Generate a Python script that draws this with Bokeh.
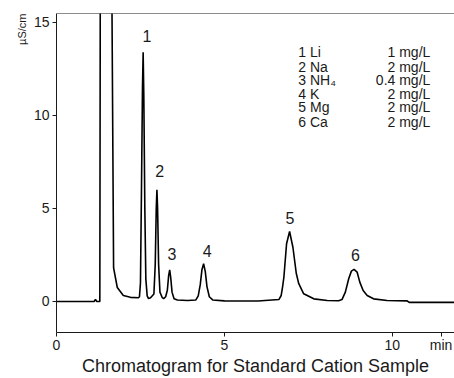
from bokeh.plotting import figure
from bokeh.models import Span, FixedTicker, ColumnDataSource, Title
from bokeh.core.properties import value
from bokeh.embed import file_html
from bokeh.resources import INLINE

time_min = [0.0, 1.00, 1.12, 1.16, 1.20, 1.29, 1.31, 1.62, 1.70, 1.81, 1.99, 2.20, 2.44,
            2.47, 2.50, 2.53, 2.56, 2.58, 2.60, 2.63, 2.66, 2.70, 2.74,
            2.80, 2.90, 2.94, 2.97, 2.99, 3.01, 3.04, 3.08, 3.15, 3.19,
            3.25, 3.30, 3.34, 3.37, 3.40, 3.44, 3.50, 3.60,
            3.90, 4.15, 4.22, 4.28, 4.33, 4.38, 4.43, 4.48, 4.55, 4.65, 5.00,
            6.00, 6.62, 6.69, 6.73, 6.77, 6.85, 6.94, 7.04, 7.14, 7.21, 7.36, 7.66, 8.06,
            8.40, 8.50, 8.60, 8.70, 8.78, 8.86, 8.95, 9.03, 9.13, 9.25, 9.44, 9.84,
            10.44, 10.50, 11.90]
signal = [0.0, 0.0, 0.0, 0.1, 0.0, 0.0, 25.0, 25.0, 1.8, 0.75, 0.32, 0.22, 0.2,
          0.25, 1.0, 6.0, 11.5, 13.4, 11.0, 5.0, 1.2, 0.3, 0.15,
          0.2, 0.4, 2.0, 5.0, 6.0, 5.0, 2.0, 0.5, 0.2, 0.15,
          0.25, 0.6, 1.4, 1.7, 1.3, 0.5, 0.15, 0.08,
          0.05, 0.08, 0.3, 0.9, 1.7, 2.03, 1.6, 0.8, 0.25, 0.08, 0.03,
          0.02, 0.1, 0.32, 0.77, 1.3, 3.1, 3.76, 2.9, 1.5, 0.97, 0.41, 0.14, 0.05,
          0.04, 0.1, 0.5, 1.22, 1.63, 1.72, 1.58, 1.04, 0.59, 0.32, 0.14, 0.05,
          0.03, -0.05, -0.05]

peak_labels = ["1", "2", "3", "4", "5", "6"]
peak_label_x = [2.69, 3.07, 3.44, 4.49, 6.95, 8.90]
peak_label_y = [14.25, 6.99, 2.53, 2.69, 4.46, 2.47]

ions = ["1 Li", "2 Na", "3 NH\u2084", "4 K", "5 Mg", "6 Ca"]
concentrations = ["1 mg/L", "2 mg/L", "0.4 mg/L", "2 mg/L", "2 mg/L", "2 mg/L"]
legend_y = [13.40, 12.63, 11.88, 11.17, 10.43, 9.64]

x_ticks = [0, 5, 10, 11.45]
x_tick_labels = {0: "0", 5: "5", 10: "10", 11.45: "min"}
y_ticks = [0, 5, 10, 15]

FONT = "Liberation Sans"
INK = "#1a1a1a"

p = figure(width=454, height=378, x_range=(0, 11.85), y_range=(-1.67, 15.48),
           output_backend="svg", toolbar_location=None,
           min_border_left=56, min_border_right=0, min_border_top=13, min_border_bottom=44)
p.outline_line_color = None
p.grid.visible = False
p.background_fill_color = "white"
p.border_fill_color = "white"

p.line(time_min, signal, line_color="black", line_width=1.6)

for ax in (p.xaxis[0], p.yaxis[0]):
    ax.axis_line_color = INK
    ax.major_tick_line_color = INK
    ax.minor_tick_line_color = None
    ax.major_tick_in = 0
    ax.major_tick_out = 4
    ax.major_label_text_font = FONT
    ax.major_label_text_font_size = "14px"
    ax.major_label_text_color = INK
    ax.major_label_standoff = 3

p.xaxis.major_label_standoff = 0
p.xaxis.ticker = FixedTicker(ticks=x_ticks)
p.xaxis.major_label_overrides = x_tick_labels
p.yaxis.ticker = FixedTicker(ticks=y_ticks)
p.xaxis.axis_label = "Chromatogram for Standard Cation Sample"
p.xaxis.axis_label_text_font = FONT
p.xaxis.axis_label_text_font_size = "18px"
p.xaxis.axis_label_text_font_style = "normal"
p.xaxis.axis_label_text_color = INK
p.xaxis.axis_label_standoff = 0

p.add_layout(Title(text="\u00b5S/cm", align="right", text_font=FONT, text_font_size="11px",
                   text_font_style="normal", text_color=INK, standoff=6), "left")

p.add_layout(Span(location=15.48, dimension="width", line_color=INK, line_width=1))

src = ColumnDataSource(dict(x=peak_label_x, y=peak_label_y, t=peak_labels))
p.text(x="x", y="y", text="t", source=src, text_font=value(FONT),
       text_font_size="16px", text_align="center", text_baseline="middle", text_color=INK)

leg_src = ColumnDataSource(dict(y=legend_y, ion=ions, conc=concentrations,
                                x1=[7.20] * len(ions), x2=[11.13] * len(ions)))
p.text(x="x1", y="y", text="ion", source=leg_src, text_font=value(FONT),
       text_font_size="14px", text_align="left", text_baseline="middle", text_color=INK)
p.text(x="x2", y="y", text="conc", source=leg_src, text_font=value(FONT),
       text_font_size="14px", text_align="right", text_baseline="middle", text_color=INK)

open("out.html", "w").write(file_html(p, INLINE))
